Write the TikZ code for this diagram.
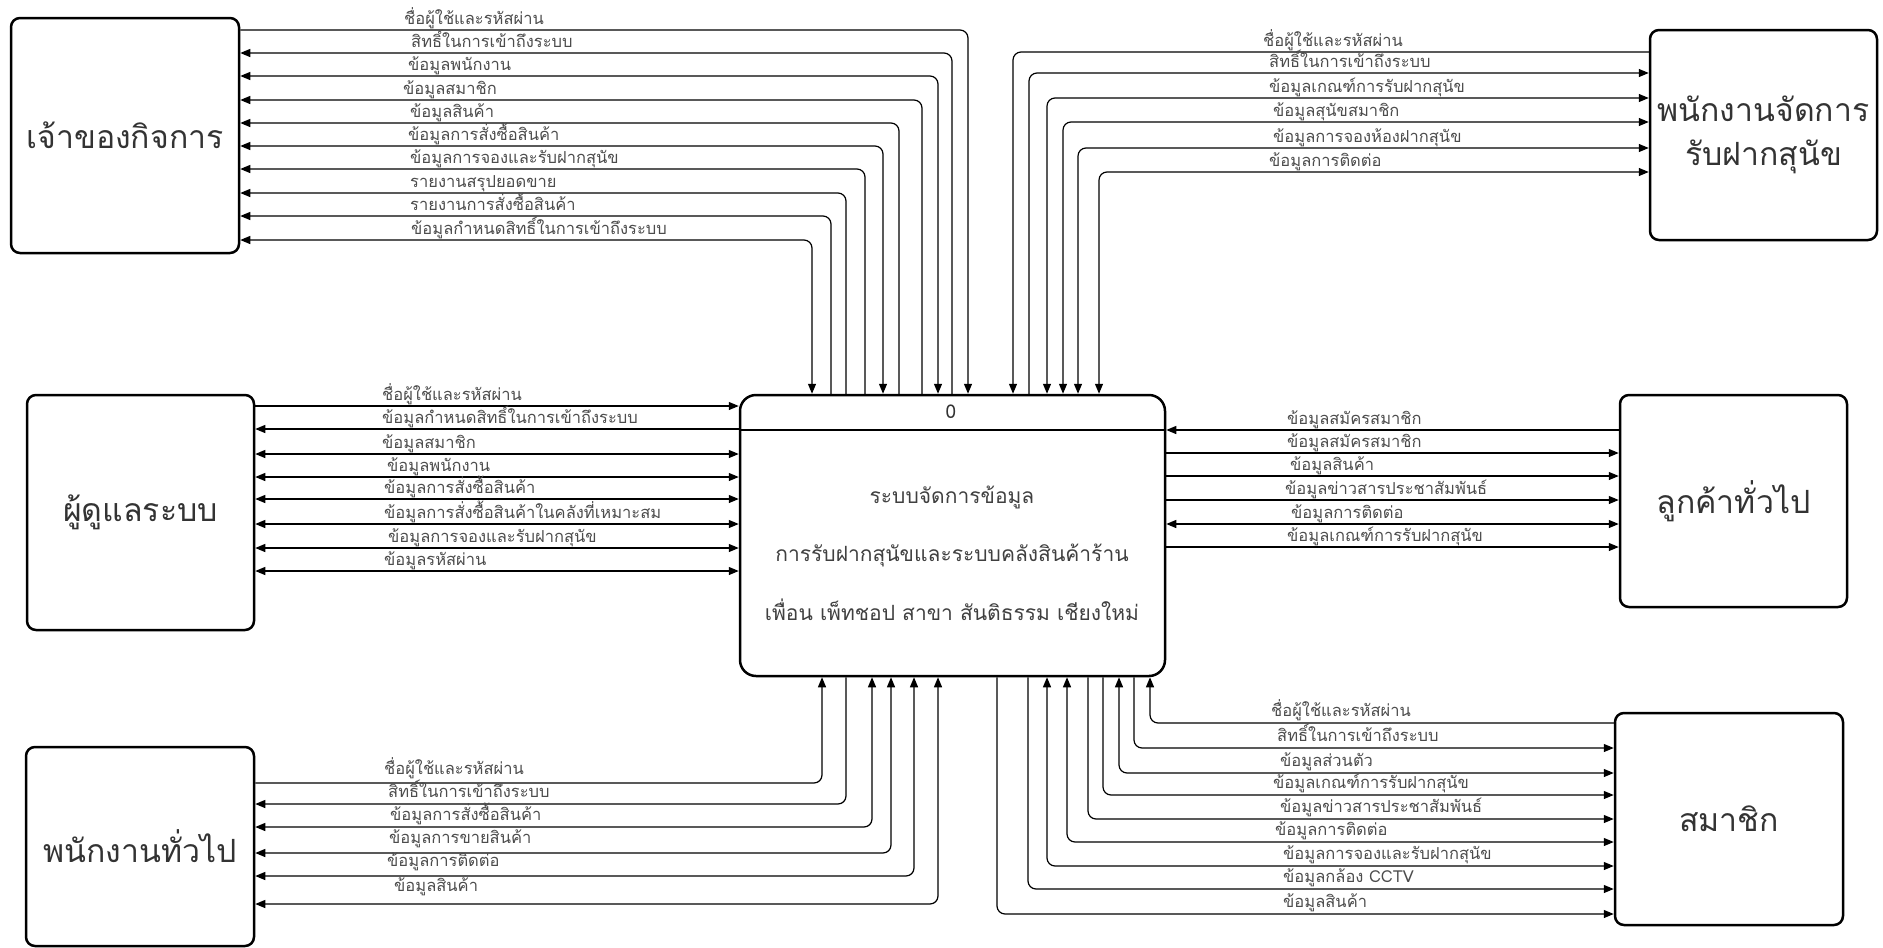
\documentclass[tikz,border=0pt]{standalone}
\usepackage{fontspec}
\setmainfont[Script=Thai]{Loma}
\usetikzlibrary{arrows.meta,positioning}

\tikzset{
  entity/.style={draw, line width=2.5pt, rounded corners=9pt, text=black!80,
    font=\fontsize{32}{44}\selectfont, align=center},
  flow/.style={line width=1.2pt, rounded corners=8pt},
  lbl/.style={anchor=base west, inner sep=0pt, text=black!70,
    font=\fontsize{16.5}{18}\selectfont},
  >={Triangle[length=10pt,width=8pt]}
}

\begin{document}
\begin{tikzpicture}[x=1pt,y=-1pt]
\useasboundingbox (0,0) rectangle (1883,948);

% external entities
\node[entity, minimum width=228pt, minimum height=235pt] (owner) at (125,135.5) {เจ้าของกิจการ};
\node[entity, minimum width=227pt, minimum height=210pt] (carestaff) at (1763.5,135) {พนักงานจัดการ\\รับฝากสุนัข};
\node[entity, minimum width=227pt, minimum height=235pt] (admin) at (140.5,512.5) {ผู้ดูแลระบบ};
\node[entity, minimum width=227pt, minimum height=212pt] (customer) at (1733.5,501) {ลูกค้าทั่วไป};
\node[entity, minimum width=228pt, minimum height=199pt] (staff) at (140,846.5) {พนักงานทั่วไป};
\node[entity, minimum width=228pt, minimum height=212pt] (member) at (1729,819) {สมาชิก};

% process
\node[entity, minimum width=425pt, minimum height=281pt, rounded corners=16pt] (sys) at (952.5,535.5) {};
\draw[line width=2.5pt] (sys.west |- 0,430) -- (sys.east |- 0,430);
\node[text=black!80, font=\fontsize{19}{20}\selectfont] (sysid) at (951,412) {0};
\node[text=black!75, font=\fontsize{21}{58.5}\selectfont, align=center] (systext) at (952,553)
  {ระบบจัดการข้อมูล\\การรับฝากสุนัขและระบบคลังสินค้าร้าน\\เพื่อน เพ็ทชอป สาขา สันติธรรม เชียงใหม่};

% owner
\draw[flow,->] (owner.east |- 0,30) -| (sys.north -| 968,0);
\draw[flow,<-] (owner.east |- 0,53) -| (sys.north -| 952,0);
\draw[flow,<->] (owner.east |- 0,76) -| (sys.north -| 938,0);
\draw[flow,<-] (owner.east |- 0,100) -| (sys.north -| 922,0);
\draw[flow,<-] (owner.east |- 0,123) -| (sys.north -| 899,0);
\draw[flow,<->] (owner.east |- 0,146) -| (sys.north -| 883,0);
\draw[flow,<-] (owner.east |- 0,169) -| (sys.north -| 865,0);
\draw[flow,<-] (owner.east |- 0,193) -| (sys.north -| 846,0);
\draw[flow,<-] (owner.east |- 0,216) -| (sys.north -| 831,0);
\draw[flow,<->] (owner.east |- 0,240) -| (sys.north -| 812,0);
\node[lbl] (o1) at (404,24) {ชื่อผู้ใช้และรหัสผ่าน};
\node[lbl] (o2) at (411,47) {สิทธิ์ในการเข้าถึงระบบ};
\node[lbl] (o3) at (408,70) {ข้อมูลพนักงาน};
\node[lbl] (o4) at (403,94) {ข้อมูลสมาชิก};
\node[lbl] (o5) at (410,117) {ข้อมูลสินค้า};
\node[lbl] (o6) at (408,140) {ข้อมูลการสั่งซื้อสินค้า};
\node[lbl] (o7) at (410,163) {ข้อมูลการจองและรับฝากสุนัข};
\node[lbl] (o8) at (410,187) {รายงานสรุปยอดขาย};
\node[lbl] (o9) at (410,210) {รายงานการสั่งซื้อสินค้า};
\node[lbl] (o10) at (411,234) {ข้อมูลกำหนดสิทธิ์ในการเข้าถึงระบบ};

% dog care staff
\draw[flow,->] (carestaff.west |- 0,52) -| (sys.north -| 1013,0);
\draw[flow,<-] (carestaff.west |- 0,73) -| (sys.north -| 1029,0);
\draw[flow,<->] (carestaff.west |- 0,98) -| (sys.north -| 1047,0);
\draw[flow,<->] (carestaff.west |- 0,122) -| (sys.north -| 1063,0);
\draw[flow,<->] (carestaff.west |- 0,148) -| (sys.north -| 1078,0);
\draw[flow,<->] (carestaff.west |- 0,172) -| (sys.north -| 1099,0);
\node[lbl] (c1) at (1263,46) {ชื่อผู้ใช้และรหัสผ่าน};
\node[lbl] (c2) at (1269,67) {สิทธิ์ในการเข้าถึงระบบ};
\node[lbl] (c3) at (1269,92) {ข้อมูลเกณฑ์การรับฝากสุนัข};
\node[lbl] (c4) at (1273,116) {ข้อมูลสุนัขสมาชิก};
\node[lbl] (c5) at (1273,142) {ข้อมูลการจองห้องฝากสุนัข};
\node[lbl] (c6) at (1269,166) {ข้อมูลการติดต่อ};

% admin
\draw[flow,->] (admin.east |- 0,406) -- (sys.west |- 0,406);
\draw[flow,<-] (admin.east |- 0,429) -- (sys.west |- 0,429);
\draw[flow,<->] (admin.east |- 0,454) -- (sys.west |- 0,454);
\draw[flow,<->] (admin.east |- 0,477) -- (sys.west |- 0,477);
\draw[flow,<->] (admin.east |- 0,499) -- (sys.west |- 0,499);
\draw[flow,<->] (admin.east |- 0,524) -- (sys.west |- 0,524);
\draw[flow,<->] (admin.east |- 0,548) -- (sys.west |- 0,548);
\draw[flow,<->] (admin.east |- 0,571) -- (sys.west |- 0,571);
\node[lbl] (a1) at (382,400) {ชื่อผู้ใช้และรหัสผ่าน};
\node[lbl] (a2) at (382,423) {ข้อมูลกำหนดสิทธิ์ในการเข้าถึงระบบ};
\node[lbl] (a3) at (382,448) {ข้อมูลสมาชิก};
\node[lbl] (a4) at (387,471) {ข้อมูลพนักงาน};
\node[lbl] (a5) at (384,493) {ข้อมูลการสั่งซื้อสินค้า};
\node[lbl] (a6) at (384,518) {ข้อมูลการสั่งซื้อสินค้าในคลังที่เหมาะสม};
\node[lbl] (a7) at (388,542) {ข้อมูลการจองและรับฝากสุนัข};
\node[lbl] (a8) at (384,565) {ข้อมูลรหัสผ่าน};

% customer
\draw[flow,<-] (sys.east |- 0,430) -- (customer.west |- 0,430);
\draw[flow,->] (sys.east |- 0,453) -- (customer.west |- 0,453);
\draw[flow,->] (sys.east |- 0,476) -- (customer.west |- 0,476);
\draw[flow,->] (sys.east |- 0,500) -- (customer.west |- 0,500);
\draw[flow,<->] (sys.east |- 0,524) -- (customer.west |- 0,524);
\draw[flow,->] (sys.east |- 0,547) -- (customer.west |- 0,547);
\node[lbl] (u1) at (1287,424) {ข้อมูลสมัครสมาชิก};
\node[lbl] (u2) at (1287,447) {ข้อมูลสมัครสมาชิก};
\node[lbl] (u3) at (1290,470) {ข้อมูลสินค้า};
\node[lbl] (u4) at (1285,494) {ข้อมูลข่าวสารประชาสัมพันธ์};
\node[lbl] (u5) at (1291,518) {ข้อมูลการติดต่อ};
\node[lbl] (u6) at (1287,541) {ข้อมูลเกณฑ์การรับฝากสุนัข};

% general staff
\draw[flow,->] (staff.east |- 0,783) -| (sys.south -| 822,0);
\draw[flow,<-] (staff.east |- 0,804) -| (sys.south -| 846,0);
\draw[flow,<->] (staff.east |- 0,827) -| (sys.south -| 872,0);
\draw[flow,<->] (staff.east |- 0,853) -| (sys.south -| 891,0);
\draw[flow,<->] (staff.east |- 0,876) -| (sys.south -| 914,0);
\draw[flow,<->] (staff.east |- 0,904) -| (sys.south -| 938,0);
\node[lbl] (s1) at (384,774) {ชื่อผู้ใช้และรหัสผ่าน};
\node[lbl] (s2) at (388,797) {สิทธิ์ในการเข้าถึงระบบ};
\node[lbl] (s3) at (390,820) {ข้อมูลการสั่งซื้อสินค้า};
\node[lbl] (s4) at (389,843) {ข้อมูลการขายสินค้า};
\node[lbl] (s5) at (387,866) {ข้อมูลการติดต่อ};
\node[lbl] (s6) at (394,891) {ข้อมูลสินค้า};

% member
\draw[flow,->] (member.west |- 0,723) -| (sys.south -| 1150,0);
\draw[flow,<-] (member.west |- 0,748) -| (sys.south -| 1134,0);
\draw[flow,<->] (member.west |- 0,773) -| (sys.south -| 1119,0);
\draw[flow,<-] (member.west |- 0,795) -| (sys.south -| 1103,0);
\draw[flow,<-] (member.west |- 0,819) -| (sys.south -| 1088,0);
\draw[flow,<->] (member.west |- 0,842) -| (sys.south -| 1067,0);
\draw[flow,<->] (member.west |- 0,866) -| (sys.south -| 1047,0);
\draw[flow,<-] (member.west |- 0,889) -| (sys.south -| 1028,0);
\draw[flow,<-] (member.west |- 0,914) -| (sys.south -| 997,0);
\node[lbl] (m1) at (1271,716) {ชื่อผู้ใช้และรหัสผ่าน};
\node[lbl] (m2) at (1277,741) {สิทธิ์ในการเข้าถึงระบบ};
\node[lbl] (m3) at (1280,766) {ข้อมูลส่วนตัว};
\node[lbl] (m4) at (1273,788) {ข้อมูลเกณฑ์การรับฝากสุนัข};
\node[lbl] (m5) at (1280,812) {ข้อมูลข่าวสารประชาสัมพันธ์};
\node[lbl] (m6) at (1275,835) {ข้อมูลการติดต่อ};
\node[lbl] (m7) at (1283,859) {ข้อมูลการจองและรับฝากสุนัข};
\node[lbl] (m8) at (1283,882) {ข้อมูลกล้อง CCTV};
\node[lbl] (m9) at (1283,907) {ข้อมูลสินค้า};

\end{tikzpicture}
\end{document}
